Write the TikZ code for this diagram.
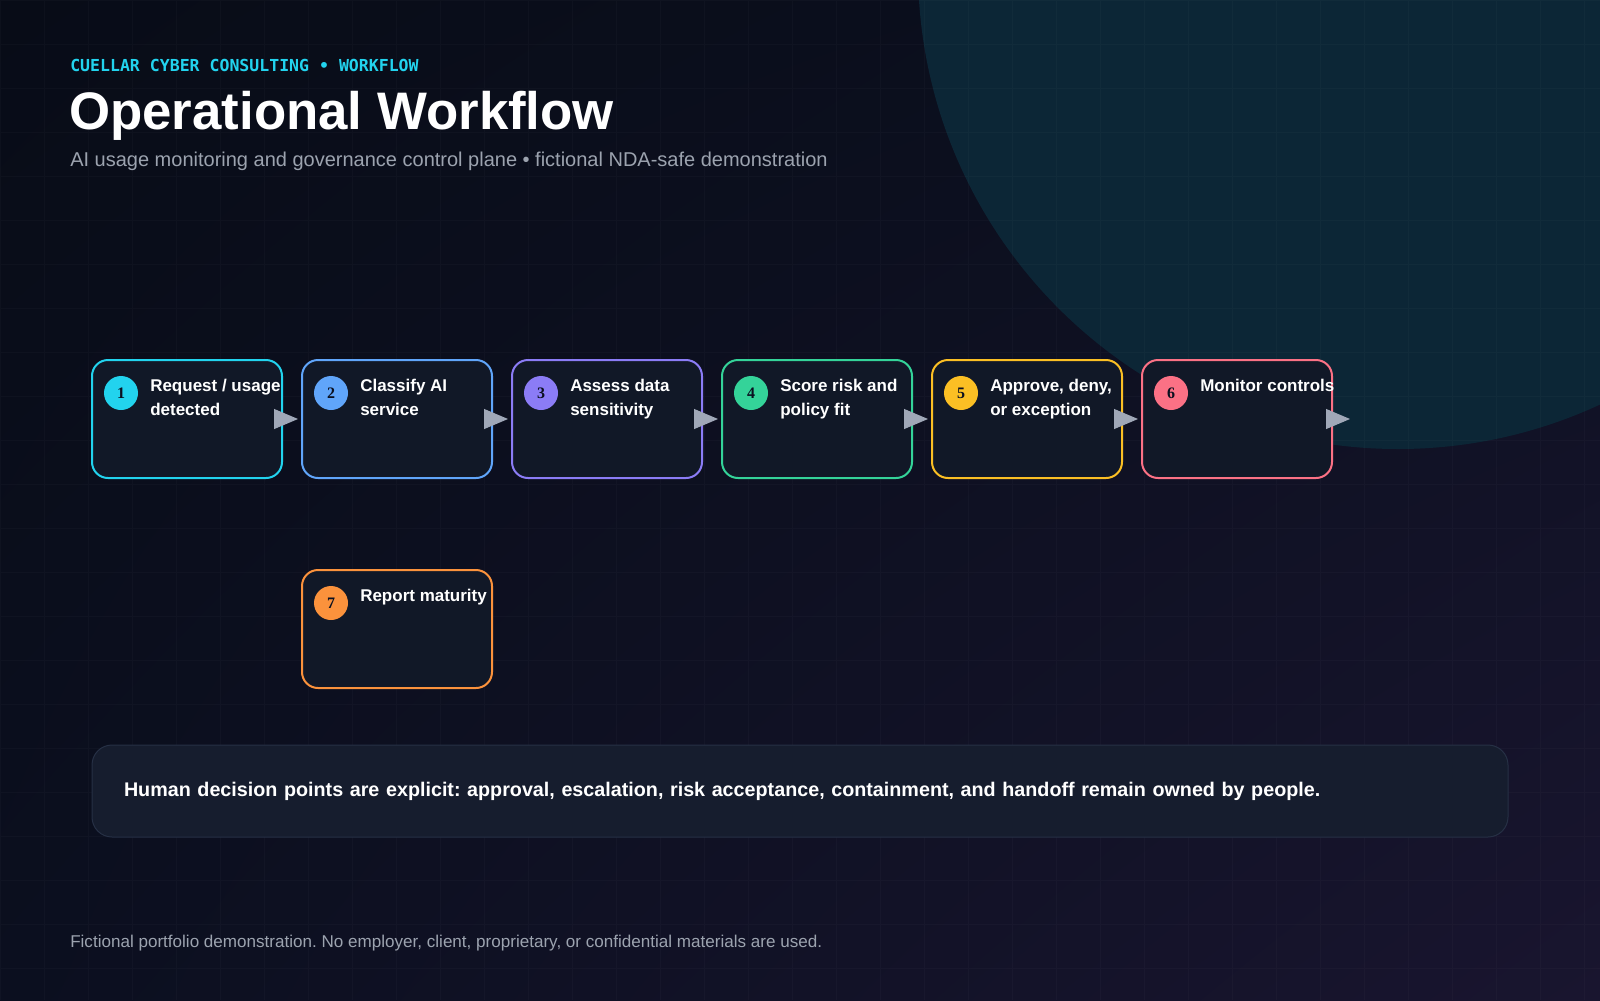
\documentclass[tikz,border=0pt]{standalone}
\usepackage{fontspec}
\setmainfont{Liberation Sans}
\newfontfamily\eyebrowfont{DejaVu Sans Mono}
\newfontfamily\badgefont{Liberation Serif}
\usetikzlibrary{arrows.meta, positioning, calc, shadings}
\frenchspacing

\definecolor{bgtl}{HTML}{080C17}
\definecolor{bgtr}{HTML}{0C1020}
\definecolor{bgbl}{HTML}{0B0F1F}
\definecolor{bgbr}{HTML}{19152F}
\definecolor{glow}{HTML}{0C2636}
\definecolor{boxfill}{HTML}{111827}
\definecolor{notefill}{HTML}{161D2E}
\definecolor{noteline}{HTML}{263045}
\definecolor{cyanish}{HTML}{22D3EE}
\definecolor{muted}{HTML}{9CA3AF}
\definecolor{arrowgray}{HTML}{A0A8B8}
\definecolor{ink}{HTML}{0B1020}
\definecolor{c1}{HTML}{22D3EE}
\definecolor{c2}{HTML}{60A5FA}
\definecolor{c3}{HTML}{8B7CF6}
\definecolor{c4}{HTML}{34D399}
\definecolor{c5}{HTML}{FBBF24}
\definecolor{c6}{HTML}{FB7185}
\definecolor{c7}{HTML}{FB923C}

% step captions hang from the baseline of their first line
\newcommand{\steplines}[1]{\begin{tabular}[t]{@{}l@{}}#1\end{tabular}}

\begin{document}
\begin{tikzpicture}[x=0.75pt, y=-0.75pt, node distance=67.5pt and 13.5pt,
    stepbox/.style={rectangle, draw=#1, line width=1.5pt, rounded corners=12pt, fill=boxfill, minimum width=142.5pt, minimum height=88.5pt, inner sep=0pt},
    badge/.style={circle, fill=#1, minimum size=25.5pt, inner sep=0pt, text=ink, font=\badgefont\bfseries\fontsize{12}{12}\selectfont},
    steplabel/.style={anchor=base west, inner sep=0pt, text=white, font=\bfseries\fontsize{12.75}{18}\selectfont},
    notebox/.style={rectangle, draw=noteline, line width=0.75pt, rounded corners=15pt, fill=notefill, text width=1014pt, inner xsep=24pt, minimum height=69pt, align=left, text=white, font=\bfseries\fontsize{14.8}{18}\selectfont},
    flow/.style={draw=arrowgray, line width=0.75pt, -{Triangle[length=18pt, width=15pt]}, shorten >=2.25pt},
]
\useasboundingbox (0,0) rectangle (1600,1000);

% Backdrop
\shade[upper left=bgtl, upper right=bgtr, lower left=bgbl, lower right=bgbr] (0,0) rectangle (1600,1000);
\begin{scope}
  \clip (0,0) rectangle (1600,1000);
  \fill[glow] (1398,-31) circle [radius=360pt];
  \draw[white, opacity=0.025, line width=0.75pt, step=33pt] (0,0) grid (1600,1000);
\end{scope}

% Header
\node[anchor=base west, inner sep=0pt, text=cyanish, font=\eyebrowfont\bfseries\fontsize{12.4}{14}\selectfont] (eyebrow) at (70,71.5) {CUELLAR CYBER CONSULTING • WORKFLOW};
\node[anchor=base west, inner sep=0pt, text=white, font=\bfseries\fontsize{39.6}{44}\selectfont] (title) at (69,129) {Operational Workflow};
\node[anchor=base west, inner sep=0pt, text=muted, font=\fontsize{15}{18}\selectfont] (subtitle) at (70,166) {AI usage monitoring and governance control plane • fictional NDA-safe demonstration};

% Steps
\node[stepbox=c1] (b1) at (187,419) {};
\node[stepbox=c2, right=of b1] (b2) {};
\node[stepbox=c3, right=of b2] (b3) {};
\node[stepbox=c4, right=of b3] (b4) {};
\node[stepbox=c5, right=of b4] (b5) {};
\node[stepbox=c6, right=of b5] (b6) {};
\node[stepbox=c7, below=of b2] (b7) {};

\foreach \i/\txt in {1/{Request / usage\\detected}, 2/{Classify AI\\service}, 3/{Assess data\\sensitivity}, 4/{Score risk and\\policy fit}, 5/{Approve, deny,\\or exception}, 6/{Monitor controls}, 7/{Report maturity}} {
  \node[badge=c\i] (n\i) at ($(b\i.north west)+(30,34)$) {\i};
  \node[steplabel] (t\i) at ($(b\i.north west)+(59,32)$) {\steplines{\txt}};
}

% Edges
\coordinate (wrap) at ($(b6.east)+(20,0)$);
\foreach \a/\b in {b1/b2, b2/b3, b3/b4, b4/b5, b5/b6, b6/wrap}
  \draw[flow] ($(\a.east)+(-5,0)$) -- (\b);

% Note and footer
\node[notebox] (note) at (800,791) {Human decision points are explicit: approval, escalation, risk acceptance, containment, and handoff remain owned by people.};
\node[anchor=base west, inner sep=0pt, text=muted, font=\fontsize{12.8}{15}\selectfont] (footer) at (70,947) {Fictional portfolio demonstration. No employer, client, proprietary, or confidential materials are used.};

\end{tikzpicture}
\end{document}
